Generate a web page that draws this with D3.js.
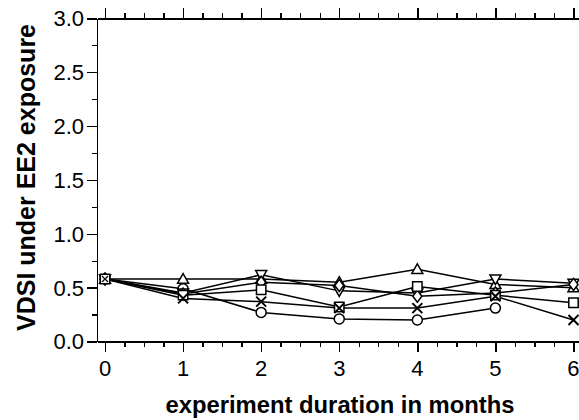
<!DOCTYPE html>
<html>
<head>
<meta charset="utf-8">
<script src="https://cdn.jsdelivr.net/npm/d3@7"></script>
<style>
  html, body { margin: 0; padding: 0; background: #fff; }
  svg { display: block; }
  text { font-family: "Liberation Sans", Arial, sans-serif; fill: #000; }
</style>
</head>
<body>
<svg id="chart" width="579" height="420"></svg>
<script>
// ---- data ----
const months = [0, 1, 2, 3, 4, 5, 6];
const triUp   = [0.58, 0.58, 0.58, 0.55, 0.67, 0.53, 0.50];
const triDown = [0.58, 0.45, 0.62, 0.47, 0.45, 0.58, 0.54];
const square  = [0.58, 0.43, 0.48, 0.32, 0.51, 0.43, 0.36];
const circle  = [0.58, 0.49, 0.27, 0.21, 0.20, 0.31];
const cross   = [0.58, 0.40, 0.37, 0.31, 0.31, 0.42, 0.20];
const diamond = [0.58, 0.44, 0.55, 0.52, 0.42, 0.45, 0.53];
const xTickLabels = ["0", "1", "2", "3", "4", "5", "6"];
const yTickLabels = ["0.0", "0.5", "1.0", "1.5", "2.0", "2.5", "3.0"];
const xTitle = "experiment duration in months";
const yTitle = "VDSI under EE2 exposure";

// drawing order: later series are drawn on top
const series = [
  { values: circle,  symbol: "circle" },
  { values: triUp,   symbol: "triUp" },
  { values: triDown, symbol: "triDown" },
  { values: diamond, symbol: "diamond" },
  { values: square,  symbol: "square" },
  { values: cross,   symbol: "cross" }
];

const svg = d3.select("#chart");
const x = d3.scaleLinear().domain([-0.1, 6.1]).range([97.2, 581.3]);
const y = d3.scaleLinear().domain([0, 3]).range([341.5, 18.3]);

const majorX = d3.range(0, 7, 1);
const minorX = d3.range(0, 6.01, 0.25).filter(v => Math.abs(v - Math.round(v)) > 1e-6);
const majorY = d3.range(0, 3.01, 0.5);
const minorY = d3.range(0, 3.01, 0.25).filter(v => Math.abs(v * 2 - Math.round(v * 2)) > 1e-6);

function styleAxis(g) {
  g.selectAll("path, line").attr("stroke", "#000").attr("stroke-width", 1.4).attr("shape-rendering", "crispEdges");
  g.selectAll("text").remove();
}

// bottom axis
svg.append("g").attr("transform", `translate(0,${y(0)})`)
  .call(d3.axisBottom(x).tickValues(majorX).tickSize(10).tickSizeOuter(0))
  .call(styleAxis);
svg.append("g").attr("transform", `translate(0,${y(0)})`)
  .call(d3.axisBottom(x).tickValues(minorX).tickSize(5).tickSizeOuter(0))
  .call(styleAxis).select(".domain").remove();
// top axis
svg.append("g").attr("transform", `translate(0,${y(3)})`)
  .call(d3.axisTop(x).tickValues(majorX).tickSize(10).tickSizeOuter(0))
  .call(styleAxis);
svg.append("g").attr("transform", `translate(0,${y(3)})`)
  .call(d3.axisTop(x).tickValues(minorX).tickSize(5).tickSizeOuter(0))
  .call(styleAxis).select(".domain").remove();
// left axis
svg.append("g").attr("transform", `translate(${x(-0.1)},0)`)
  .call(d3.axisLeft(y).tickValues(majorY).tickSize(10).tickSizeOuter(0))
  .call(styleAxis);
svg.append("g").attr("transform", `translate(${x(-0.1)},0)`)
  .call(d3.axisLeft(y).tickValues(minorY).tickSize(5).tickSizeOuter(0))
  .call(styleAxis).select(".domain").remove();

// tick labels
svg.append("g").selectAll("text").data(majorX).join("text")
  .attr("x", d => x(d)).attr("y", 376)
  .attr("text-anchor", "middle").attr("font-size", 22)
  .text((d, i) => xTickLabels[i]);
svg.append("g").selectAll("text").data(majorY).join("text")
  .attr("x", 84).attr("y", d => y(d)).attr("dy", "0.36em")
  .attr("text-anchor", "end").attr("font-size", 22)
  .text((d, i) => yTickLabels[i]);

// titles
svg.append("text").attr("x", 340).attr("y", 413)
  .attr("text-anchor", "middle").attr("font-size", 23.8).attr("font-weight", "bold")
  .text(xTitle);
svg.append("text").attr("transform", "translate(35,177.5) rotate(-90)")
  .attr("text-anchor", "middle").attr("font-size", 25).attr("font-weight", "bold")
  .text(yTitle);

// lines
const line = d3.line().x((d, i) => x(months[i])).y(d => y(d));
const plot = svg.append("g");
plot.selectAll("path.series").data(series).join("path")
  .attr("class", "series")
  .attr("d", s => line(s.values))
  .attr("fill", "none").attr("stroke", "#000").attr("stroke-width", 1.5);

// markers
function markerPath(sym) {
  const r = 5.5;
  switch (sym) {
    case "triUp":   return `M0,${-r}L${r},${r*0.75}L${-r},${r*0.75}Z`;
    case "triDown": return `M0,${r}L${r},${-r*0.75}L${-r},${-r*0.75}Z`;
    case "square":  return `M${-4.7},${-4.7}H4.7V4.7H-4.7Z`;
    case "diamond": return `M0,${-r-0.5}L${r-1},0L0,${r+0.5}L${-(r-1)},0Z`;
    case "cross":   return `M-5,-5L5,5M-5,5L5,-5`;
    default: return null;
  }
}
series.forEach(s => {
  const g = plot.append("g");
  s.values.forEach((v, i) => {
    const cx = x(months[i]), cy = y(v);
    if (s.symbol === "circle") {
      g.append("circle").attr("cx", cx).attr("cy", cy).attr("r", 5)
        .attr("fill", "#fff").attr("stroke", "#000").attr("stroke-width", 1.5);
    } else {
      const isX0 = s.symbol === "cross" && i === 0;
      g.append("path").attr("d", markerPath(s.symbol))
        .attr("transform", `translate(${cx},${cy})${isX0 ? " scale(0.6)" : ""}`)
        .attr("fill", s.symbol === "cross" ? "none" : "#fff")
        .attr("stroke", "#000").attr("stroke-width", s.symbol === "cross" ? 2 : 1.5);
    }
  });
});
</script>
</body>
</html>
